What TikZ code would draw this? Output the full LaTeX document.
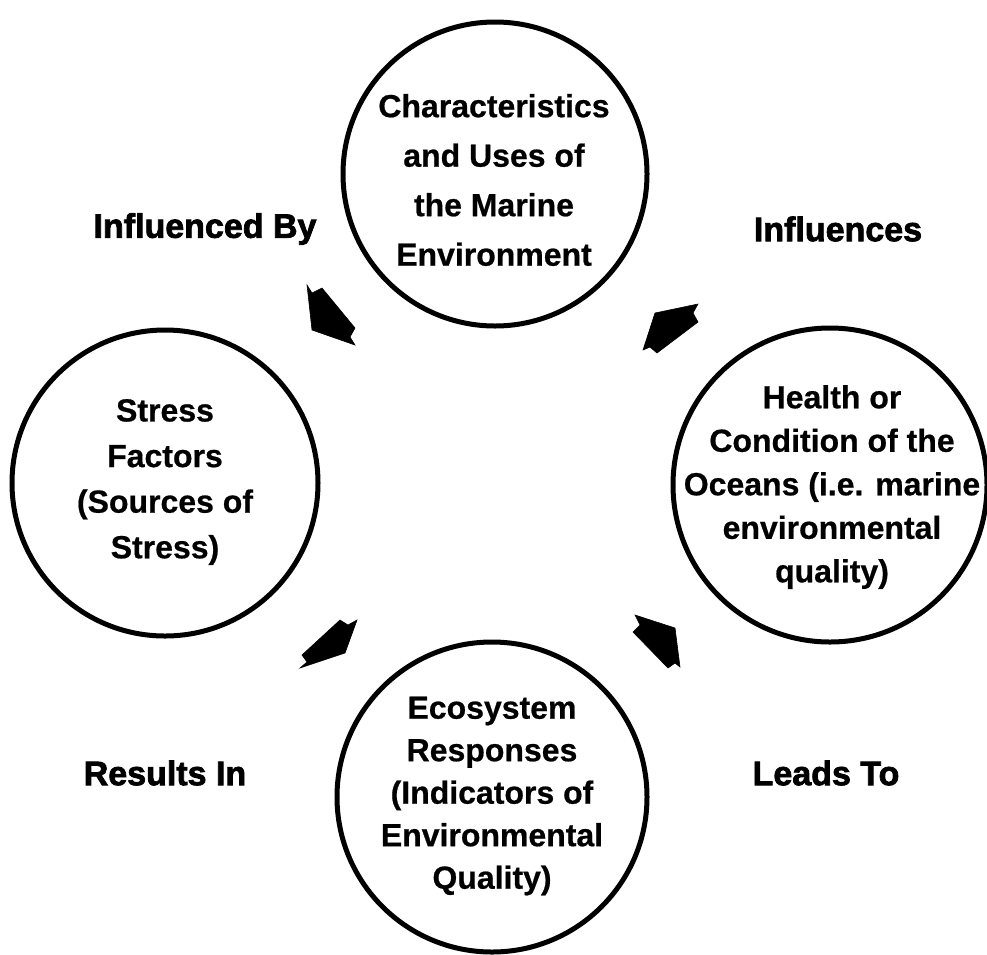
\documentclass[tikz,border=0pt]{standalone}
\usepackage{fontspec}
\setmainfont[BoldFeatures={FakeBold=0.6}]{Liberation Sans}
\newfontfamily\heavyfont[BoldFeatures={FakeBold=2.2}]{Liberation Sans}
\begin{document}
\begin{tikzpicture}[x=1pt,y=-1pt,
  ring/.style={draw=black,line width=5pt,circle,minimum size=#1,inner sep=0pt},
  ctext/.style={align=center,inner sep=0pt,font=\bfseries\fontsize{32}{#1}\selectfont},
  flow/.style={inner sep=0pt,font=\heavyfont\bfseries\fontsize{34}{38}\selectfont},
  fat/.style={fill=black,draw=black,line width=0.6pt,line join=miter}]
\useasboundingbox (0,0) rectangle (987,954);

% the four circles
\node[ring=304pt] (chars)  at (495,174) {};
\node[ring=306pt] (stress) at (165,483) {};
\node[ring=314pt] (health) at (830,485) {};
\node[ring=310pt] (eco)    at (492,797) {};

% circle texts
\node[ctext=49.5pt] (charsT) at (494,180) {Characteristics\\and Uses of\\the Marine\\Environment};
\node[ctext=45.6pt] (stressT) at (165,482) {Stress\\Factors\\(Sources of\\Stress)};
\node[ctext=43.5pt] (healthT) at (832,487) {Health or\\Condition of the\\Oceans (i.e. marine\\environmental\\quality)};
\node[ctext=42.5pt] (ecoT) at (492,796) {Ecosystem\\Responses\\(Indicators of\\Environmental\\Quality)};

% relation labels
\node[flow] (lblA) at (205,229) {Influenced By};
\node[flow] (lblB) at (838,229) {Influences};
\node[flow] (lblC) at (165,773) {Results In};
\node[flow] (lblD) at (826,773) {Leads To};

% block arrows between the circles
\filldraw[fat] (307,285) -- (312,293) -- (322,288) -- (355,328) -- (350,337) -- (355,345) -- (312,330) -- cycle;
\filldraw[fat] (655,313) -- (698,304) -- (693,313) -- (698,322) -- (657,353) -- (650,347) -- (643,350) -- cycle;
\filldraw[fat] (340,620) -- (348,625) -- (357,620) -- (345,653) -- (300,668) -- (307,662) -- (302,655) -- cycle;
\filldraw[fat] (635,615) -- (675,628) -- (680,667) -- (675,663) -- (668,668) -- (633,632) -- (640,625) -- cycle;
\end{tikzpicture}
\end{document}
